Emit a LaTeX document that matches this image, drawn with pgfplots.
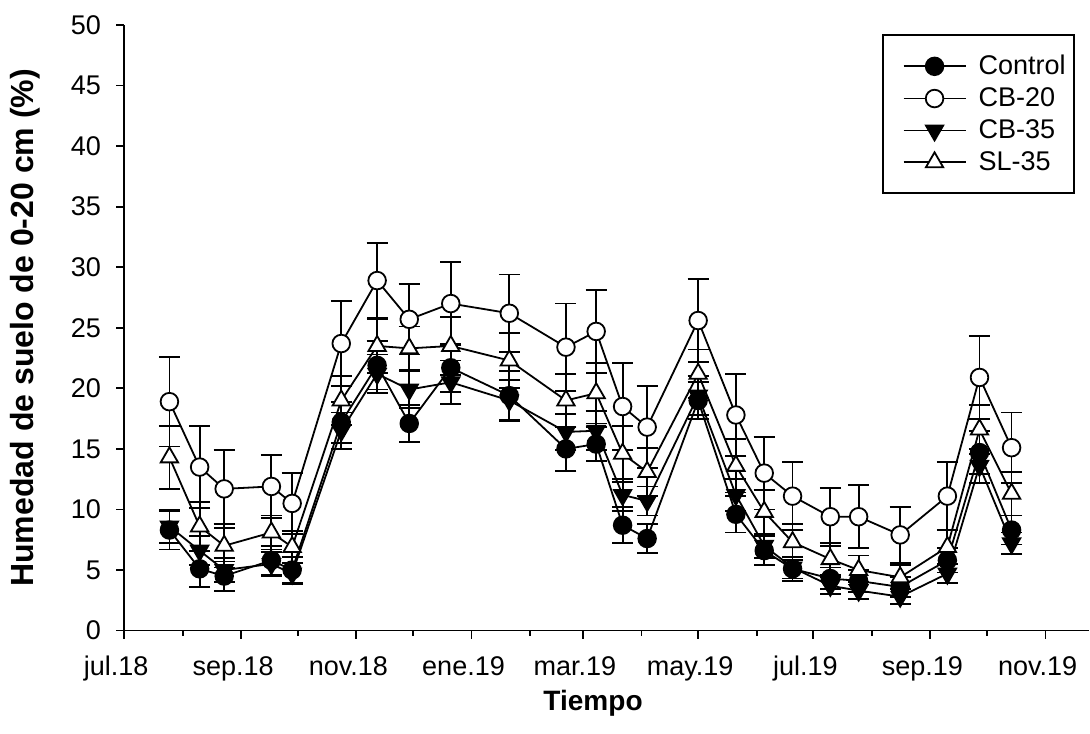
\documentclass[border=0pt]{standalone}
\usepackage{fontspec}
\setmainfont{Liberation Sans}
\usepackage{pgfplots}
\pgfplotsset{compat=1.18}
\usepackage{pgfplotstable}

% x = days since 1 Jul 2018, y = soil moisture (%), e = error
\pgfplotstableread{
x y e
24 8.3 1.6
40 5.1 1.5
53 4.5 1.2
78 5.8 1.2
89 5.0 1.1
115 17.2 1.7
134 21.9 2.0
151 17.1 1.5
173 21.7 2.0
204 19.4 2.0
234 15.0 1.8
250 15.4 1.4
264 8.7 1.5
277 7.6 1.2
304 19.0 1.5
324 9.6 1.5
339 6.6 1.2
354 5.1 1.0
374 4.3 0.9
389 4.1 0.9
411 3.6 0.8
436 5.8 1.0
453 14.7 1.8
470 8.3 1.2
}\control

\pgfplotstableread{
x y e
24 18.9 3.7
40 13.5 3.4
53 11.7 3.2
78 11.9 2.6
89 10.5 2.5
115 23.7 3.5
134 28.9 3.1
151 25.7 2.9
173 27.0 3.4
204 26.2 3.2
234 23.4 3.6
250 24.7 3.4
264 18.5 3.6
277 16.8 3.4
304 25.6 3.4
324 17.8 3.4
339 13.0 3.0
354 11.1 2.8
374 9.4 2.4
389 9.4 2.6
411 7.9 2.3
436 11.1 2.8
453 20.9 3.4
470 15.1 2.9
}\cbtwenty

\pgfplotstableread{
x y e
24 8.6 1.4
40 6.6 1.2
53 5.0 1.0
78 5.5 1.0
89 4.7 0.9
115 16.5 1.5
134 21.2 1.6
151 19.9 1.5
173 20.5 1.8
204 19.0 1.7
234 16.4 1.5
250 16.5 1.6
264 11.2 1.3
277 10.7 1.2
304 19.4 1.6
324 11.2 1.3
339 7.0 1.0
354 5.2 0.9
374 3.7 0.7
389 3.3 0.7
411 2.8 0.6
436 4.7 0.8
453 13.6 1.4
470 7.2 0.9
}\cbthirtyfive

\pgfplotstableread{
x y e
24 14.3 2.6
40 8.6 2.0
53 7.0 1.8
78 8.1 1.4
89 6.9 1.3
115 19.0 2.0
134 23.5 2.2
151 23.3 1.8
173 23.5 2.4
204 22.3 2.3
234 19.0 2.2
250 19.6 2.5
264 14.6 2.3
277 13.1 2.0
304 21.2 2.0
324 13.6 2.2
339 9.8 1.8
354 7.3 1.5
374 5.9 1.3
389 5.0 1.2
411 4.4 1.0
436 6.9 1.4
453 16.6 2.0
470 11.3 1.8
}\slthirtyfive

\pgfplotsset{
  errstyle/.style={
    error bars/y dir=both,
    error bars/y explicit,
    error bars/error bar style={line width=0.9pt, black, solid},
    error bars/error mark options={rotate=90, mark size=5.25pt, line width=0.9pt, black, solid},
  }
}

\begin{document}
\begin{tikzpicture}
\begin{axis}[
  name=main,
  scale only axis, width=482pt, height=302.5pt,
  xmin=0, xmax=511, ymin=0, ymax=50,
  axis x line*=bottom, axis y line*=left,
  axis line style={line width=0.9pt, -},
  xtick={0,62,123,184,243,304,365,427,488},
  xticklabels={jul.18,sep.18,nov.18,ene.19,mar.19,may.19,jul.19,sep.19,nov.19},
  minor xtick={31,92,153,215,274,335,396,457},
  ytick={0,5,...,50},
  tick align=outside,
  major tick length=4pt, minor tick length=2.5pt,
  tick style={black, line width=0.9pt},
  /pgf/number format/assume math mode=true,
  tick label style={font=\fontsize{13.5}{15}\selectfont},
  xticklabel shift=5pt,
  xticklabel style={xshift=-4pt, text height=9.7pt, text depth=2.8pt},
  yticklabel style={xshift=-4pt},
  xlabel={Tiempo},
  ylabel={Humedad de suelo de 0-20 cm (\%)},
  xlabel style={font=\bfseries\fontsize{14}{17}\selectfont, at={(axis description cs:0.486,0)}, yshift=-36.5pt, anchor=center},
  ylabel style={font=\bfseries\fontsize{16}{19}\selectfont, at={(axis description cs:-0.1027,0.5)}, anchor=center},
  legend style={at={(rel axis cs:0.985,0.985)}, anchor=north east, draw=black, line width=0.9pt,
    font=\fontsize{13.5}{15}\selectfont, inner xsep=2pt, inner ysep=8pt, row sep=1pt,
    /tikz/every odd column/.append style={column sep=4pt}},
  legend cell align=left,
  legend image code/.code={\path (0pt,0pt); \draw[mark repeat=2,mark phase=2] plot coordinates {(8pt,0pt) (23.5pt,0pt) (39pt,0pt)};},
]
\addplot[black, line width=0.9pt, mark=*, mark size=4.4pt, mark options={solid, fill=black}, errstyle]
  table[x=x, y=y, y error=e]{\control};
\addlegendentry{Control}
\addplot[black, line width=0.9pt, mark=*, mark size=4.4pt, mark options={solid, fill=white}, errstyle]
  table[x=x, y=y, y error=e]{\cbtwenty};
\addlegendentry{CB-20}
\addplot[black, line width=0.9pt, mark=triangle*, mark size=5pt, mark options={solid, fill=black, rotate=180}, errstyle]
  table[x=x, y=y, y error=e]{\cbthirtyfive};
\addlegendentry{CB-35}
\addplot[black, line width=0.9pt, mark=triangle*, mark size=5pt, mark options={solid, fill=white}, errstyle]
  table[x=x, y=y, y error=e]{\slthirtyfive};
\addlegendentry{SL-35}
\end{axis}
\pgfresetboundingbox
\path[use as bounding box] ([xshift=-62pt,yshift=-51.5pt]main.south west) rectangle ([xshift=0.5pt,yshift=12.5pt]main.north east);
\end{tikzpicture}
\end{document}
